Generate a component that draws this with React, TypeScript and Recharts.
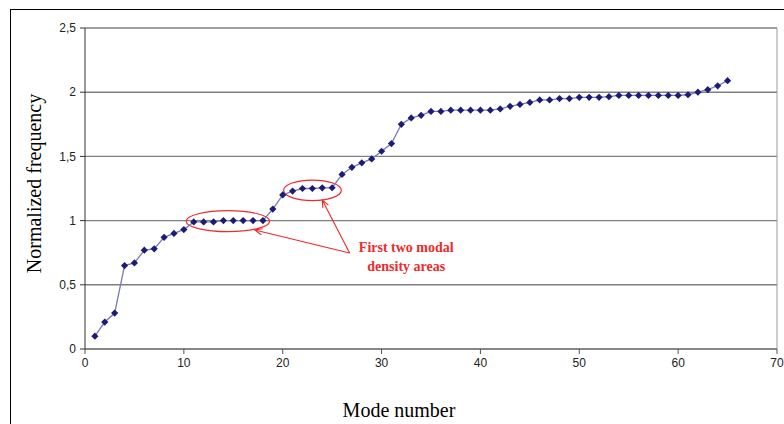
import {
  ComposedChart,
  Line,
  XAxis,
  YAxis,
  CartesianGrid,
  ReferenceLine,
  ReferenceArea,
  ReferenceDot,
} from "recharts"

// mode numbers and their normalized frequencies
const modes = [
  1, 2, 3, 4, 5, 6, 7, 8, 9, 10, 11, 12, 13, 14, 15, 16, 17, 18, 19, 20, 21, 22,
  23, 24, 25, 26, 27, 28, 29, 30, 31, 32, 33, 34, 35, 36, 37, 38, 39, 40, 41, 42,
  43, 44, 45, 46, 47, 48, 49, 50, 51, 52, 53, 54, 55, 56, 57, 58, 59, 60, 61, 62,
  63, 64, 65,
]
const frequencies = [
  0.1, 0.21, 0.28, 0.65, 0.67, 0.77, 0.78, 0.87, 0.9, 0.93, 0.99, 0.99, 0.99, 1.0,
  1.0, 1.0, 1.0, 1.0, 1.09, 1.2, 1.23, 1.25, 1.25, 1.255, 1.256, 1.36, 1.415, 1.45,
  1.48, 1.54, 1.6, 1.75, 1.8, 1.82, 1.85, 1.85, 1.86, 1.86, 1.86, 1.86, 1.86, 1.87,
  1.89, 1.905, 1.92, 1.94, 1.94, 1.95, 1.95, 1.96, 1.96, 1.96, 1.965, 1.975, 1.975,
  1.975, 1.975, 1.975, 1.975, 1.975, 1.98, 2.0, 2.02, 2.05, 2.09,
]

const xTicks = [0, 10, 20, 30, 40, 50, 60, 70]
const yTicks = [0, 0.5, 1, 1.5, 2, 2.5]

// annotation: the two modal density areas (data coords)
const areaOne = { x1: 10.24, x2: 18.67, y1: 0.914, y2: 1.077 }
const areaTwo = { x1: 20.09, x2: 25.93, y1: 1.155, y2: 1.316 }
const arrowStart = { x: 26.77, y: 0.748 }
const arrowTips = [
  { x: 17.18, y: 0.927 },
  { x: 24.0, y: 1.16 },
]
const noteAnchor = { x: 32.5, y: 0.79 }
const noteLines = ["First two modal", "density areas"]

const data = modes.map((m, i) => ({ mode: m, freq: frequencies[i] }))

const RED = "#ee2a2a"
const SERIF = "'Liberation Serif', 'Times New Roman', serif"

const Diamond = (props: any) => {
  const { cx, cy } = props
  if (cx == null || cy == null) return null
  const r = 3.6
  return (
    <polygon
      points={`${cx},${cy - r} ${cx + r},${cy} ${cx},${cy + r} ${cx - r},${cy}`}
      fill="#1c1c78"
    />
  )
}

const Ellipse = (props: any) => {
  const { x, y, width, height } = props
  return (
    <ellipse
      cx={x + width / 2}
      cy={y + height / 2}
      rx={width / 2}
      ry={height / 2}
      fill="none"
      stroke={RED}
      strokeWidth={1.2}
    />
  )
}

const Arrow = (props: any) => {
  const x1 = props.x1 ?? props.points?.[0]?.x
  const y1 = props.y1 ?? props.points?.[0]?.y
  const x2 = props.x2 ?? props.points?.[1]?.x
  const y2 = props.y2 ?? props.points?.[1]?.y
  if (x1 == null || x2 == null) return null
  // tip is at (x2, y2)
  const ang = Math.atan2(y2 - y1, x2 - x1)
  const len = 8
  const spread = 0.4
  const ax = x2 - len * Math.cos(ang - spread)
  const ay = y2 - len * Math.sin(ang - spread)
  const bx = x2 - len * Math.cos(ang + spread)
  const by = y2 - len * Math.sin(ang + spread)
  return (
    <g>
      <line x1={x1} y1={y1} x2={x2} y2={y2} stroke={RED} strokeWidth={1.1} />
      <polyline
        points={`${ax},${ay} ${x2},${y2} ${bx},${by}`}
        fill="none"
        stroke={RED}
        strokeWidth={1.1}
      />
    </g>
  )
}

const Note = (props: any) => {
  const { cx, cy } = props
  return (
    <text
      x={cx}
      y={cy}
      textAnchor="middle"
      fill={RED}
      fontFamily={SERIF}
      fontWeight="bold"
      fontSize={14}
    >
      {noteLines.map((t, i) => (
        <tspan key={i} x={cx} dy={i === 0 ? 4 : 19}>
          {t}
        </tspan>
      ))}
    </text>
  )
}

const YTitle = (props: any) => {
  const vb = props.viewBox || {}
  const cx = 34
  const cy = vb.y + vb.height / 2 - 5
  return (
    <text
      x={cx}
      y={cy}
      transform={`rotate(-90, ${cx}, ${cy})`}
      textAnchor="middle"
      dominantBaseline="central"
      fontFamily={SERIF}
      fontSize={20}
      fill="#000"
    >
      Normalized frequency
    </text>
  )
}

const XTitle = (props: any) => {
  const vb = props.viewBox || {}
  const cx = vb.x + vb.width / 2 - 32
  return (
    <text
      x={cx}
      y={417}
      textAnchor="middle"
      fontFamily={SERIF}
      fontSize={20}
      fill="#000"
    >
      Mode number
    </text>
  )
}

const tickStyle = {
  fill: "#222",
  fontSize: 12,
  fontFamily: "'Liberation Sans', Arial, sans-serif",
}

export default function App() {
  return (
    <div
      style={{
        position: "absolute",
        left: 0,
        top: 0,
        width: 784,
        height: 424,
        background: "#fff",
        overflow: "hidden",
      }}
    >
      <div
        style={{
          position: "absolute",
          left: 10,
          top: 9,
          width: 900,
          height: 600,
          borderLeft: "1px solid #000",
          borderTop: "1px solid #000",
        }}
      />
      <ComposedChart
        width={784}
        height={424}
        data={data}
        margin={{ top: 28, right: 7, bottom: 45, left: 10 }}
        style={{ position: "absolute", left: 0, top: 0 }}
      >
        <CartesianGrid horizontal vertical={false} stroke="#7f7f7f" strokeWidth={1.4} />
        <XAxis
          dataKey="mode"
          type="number"
          domain={[0, 70]}
          ticks={xTicks}
          interval={0}
          height={30}
          tick={tickStyle}
          tickSize={5}
          tickMargin={4}
          axisLine={{ stroke: "#7f7f7f", strokeWidth: 1.4 }}
          tickLine={{ stroke: "#555" }}
          label={<XTitle />}
        />
        <YAxis
          type="number"
          domain={[0, 2.5]}
          ticks={yTicks}
          interval={0}
          width={75}
          tick={tickStyle}
          tickSize={5}
          tickMargin={4}
          tickFormatter={(v: number) => String(v).replace(".", ",")}
          axisLine={{ stroke: "#333", strokeWidth: 1 }}
          tickLine={{ stroke: "#333" }}
          label={<YTitle />}
        />
        <ReferenceLine x={70} stroke="#9a9a9a" strokeWidth={1} />
        <Line
          type="linear"
          dataKey="freq"
          stroke="#7a7ab8"
          strokeWidth={1.3}
          dot={<Diamond />}
          activeDot={false}
          isAnimationActive={false}
        />
        <ReferenceArea {...areaOne} shape={<Ellipse />} ifOverflow="visible" />
        <ReferenceArea {...areaTwo} shape={<Ellipse />} ifOverflow="visible" />
        {arrowTips.map((tip, i) => (
          <ReferenceLine
            key={i}
            segment={[arrowStart, tip]}
            shape={<Arrow />}
            ifOverflow="visible"
          />
        ))}
        <ReferenceDot
          x={noteAnchor.x}
          y={noteAnchor.y}
          r={0}
          shape={<Note />}
          ifOverflow="visible"
        />
      </ComposedChart>
    </div>
  )
}
